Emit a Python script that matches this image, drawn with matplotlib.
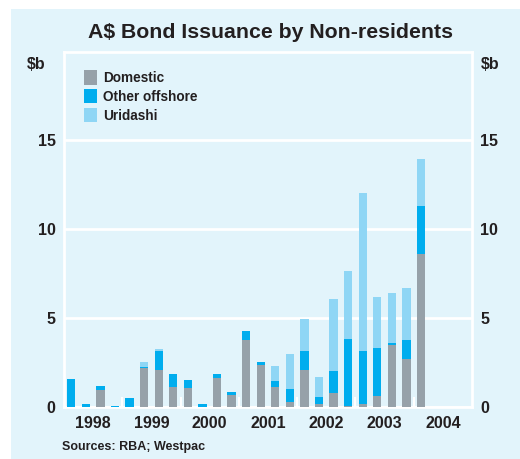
import matplotlib
matplotlib.use("Agg")
import matplotlib.pyplot as plt
from matplotlib.patches import Rectangle, Patch
import numpy as np

plt.rcParams['font.family'] = ['Liberation Sans', 'DejaVu Sans']

# Quarterly data, 1998 Q1 .. 2004 Q1 ($b)
quarters = ["1998Q1","1998Q2","1998Q3","1998Q4","1999Q1","1999Q2","1999Q3","1999Q4",
            "2000Q1","2000Q2","2000Q3","2000Q4","2001Q1","2001Q2","2001Q3","2001Q4",
            "2002Q1","2002Q2","2002Q3","2002Q4","2003Q1","2003Q2","2003Q3","2003Q4",
            "2004Q1"]
domestic = [0, 0, 0.94, 0, 0, 2.19, 2.06, 1.11, 1.05, 0, 1.61, 0.64, 3.75, 2.34, 1.11, 0.26,
            2.06, 0.15, 0.77, 0.03, 0.15, 0.60, 3.47, 2.68, 8.58]
other_offshore = [1.56, 0.15, 0.22, 0.06, 0.49, 0.06, 1.07, 0.73, 0.45, 0.15, 0.23, 0.19, 0.50, 0.17,
                  0.33, 0.73, 1.07, 0.40, 1.23, 3.77, 2.98, 2.70, 0.11, 1.07, 2.75]
uridashi = [0, 0, 0, 0, 0, 0.26, 0.11, 0, 0, 0, 0, 0, 0, 0, 0.85, 1.97, 1.80, 1.12, 4.05, 3.82,
            8.93, 2.86, 2.81, 2.92, 2.64]
series_names = ["Domestic", "Other offshore", "Uridashi"]
year_labels = ["1998", "1999", "2000", "2001", "2002", "2003", "2004"]
y_ticks = [0, 5, 10, 15]

c_dom = "#96a1a9"
c_off = "#00adee"
c_uri = "#8fd6f5"
bg = "#e2f4fb"
txt = "#231f20"

fig = plt.figure(figsize=(5.2, 4.59), dpi=100)
fig.patch.set_facecolor("white")
fig.add_artist(Rectangle((11/520, 0), 1 - 11/520, 1 - 9/459, transform=fig.transFigure,
                         facecolor=bg, edgecolor="none", zorder=0))

ax = fig.add_axes([64/520, 1 - 406.7/459, 408/520, (406.7 - 51.7)/459])
ax.set_facecolor(bg)

def qpos(q):
    y = int(q[:4]); n = int(q[5])
    return y + (n - 1) / 4 + 0.125

x = np.array([qpos(q) for q in quarters])
d = np.array(domestic); o = np.array(other_offshore); u = np.array(uridashi)
w = 0.14
ax.bar(x, d, width=w, color=c_dom, zorder=3, linewidth=0)
ax.bar(x, o, width=w, bottom=d, color=c_off, zorder=3, linewidth=0)
ax.bar(x, u, width=w, bottom=d + o, color=c_uri, zorder=3, linewidth=0)

ax.set_xlim(1998, 2005)
ax.set_ylim(0, 20)

for s in ax.spines.values():
    s.set_color("white")
    s.set_linewidth(2)

ax.set_yticks(y_ticks)
ax.yaxis.grid(True, color="white", linewidth=2, zorder=1)
ax.tick_params(axis="y", length=0, labelsize=11.5, labelcolor=txt, pad=6,
               labelleft=True, labelright=True)
for t in ax.yaxis.get_major_ticks():
    t.tick2line.set_visible(False)
    t.label1.set_fontweight("bold")
    t.label2.set_fontweight("bold")

# x axis: white year-boundary ticks inside, labels centred on years
ax.set_xticks([int(y) for y in year_labels[1:]])
ax.set_xticklabels([])
ax.set_xticks([int(y) + 0.5 for y in year_labels], minor=True)
ax.set_xticklabels(year_labels, minor=True, fontweight="bold", fontsize=11.5, color=txt)
ax.tick_params(axis="x", which="major", direction="in", length=7.5, width=1.5, color="white")
ax.tick_params(axis="x", which="minor", length=0, pad=7)

ax.text(-0.045, 19.3, "$b", transform=ax.get_yaxis_transform(), ha="right", va="center",
        fontsize=11.5, fontweight="bold", color=txt)
ax.text(1.022, 19.3, "$b", transform=ax.get_yaxis_transform(), ha="left", va="center",
        fontsize=11.5, fontweight="bold", color=txt)

fig.text(270/520, 1 - 33/459, "A$ Bond Issuance by Non-residents", ha="center", va="center",
         fontsize=15.3, fontweight="bold", color=txt)
fig.text(62/520, 1 - 447/459, "Sources: RBA; Westpac", ha="left", va="center",
         fontsize=9, fontweight="bold", color=txt)

handles = [Patch(facecolor=c, edgecolor="none") for c in (c_dom, c_off, c_uri)]
leg = ax.legend(handles, series_names, loc="upper left", bbox_to_anchor=(0.05, 0.948),
                frameon=False, handlelength=0.95, handleheight=1.25, handletextpad=0.4,
                labelspacing=0.3, prop={"weight": "bold", "size": 9.8}, borderaxespad=0,
                borderpad=0)
for t in leg.get_texts():
    t.set_color(txt)

fig.savefig("out.png", dpi=100, facecolor=fig.get_facecolor())
